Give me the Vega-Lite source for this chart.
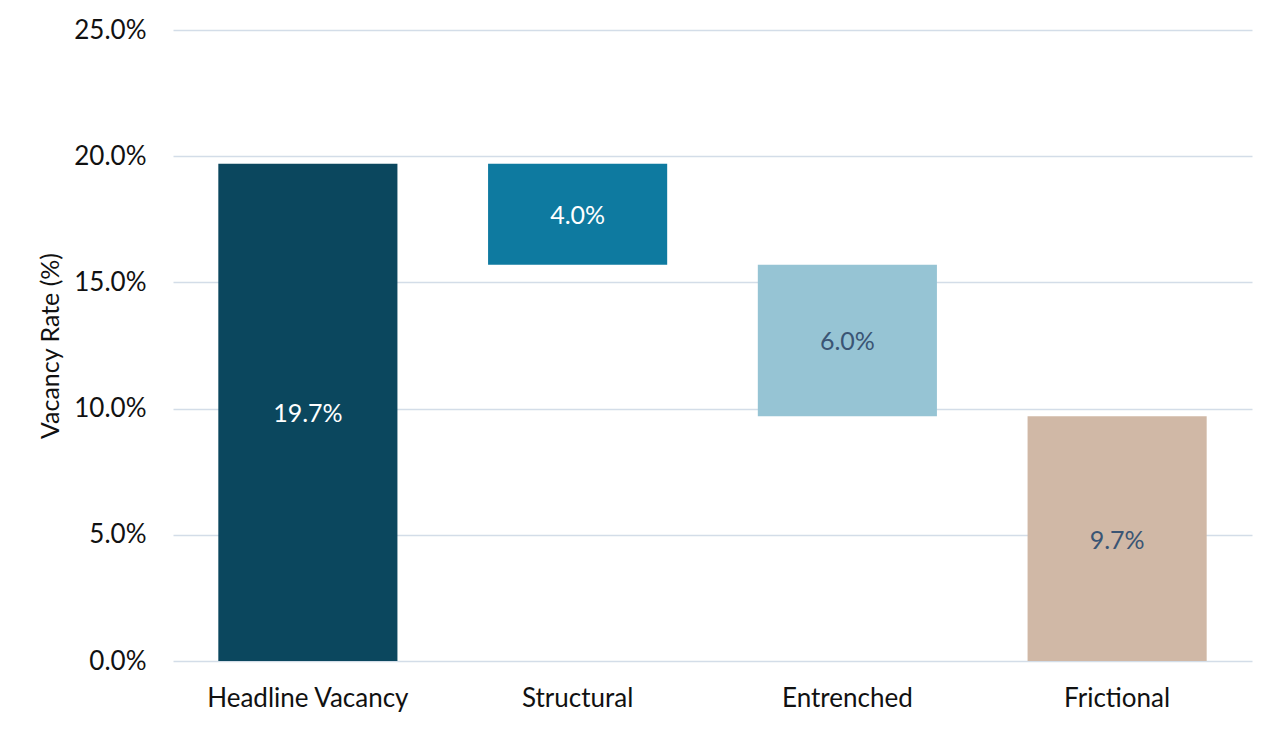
{
  "$schema": "https://vega.github.io/schema/vega-lite/v6.json",
  "width": 1079,
  "height": 631,
  "autosize": {"type": "none"},
  "padding": {"left": 173, "top": 30, "right": 28, "bottom": 72},
  "background": "white",
  "config": {
    "font": "Lato",
    "view": {"stroke": null}
  },
  "data": {
    "values": [
      {"category": "Headline Vacancy", "start": 0, "end": 19.7, "value": 19.7},
      {"category": "Structural", "start": 15.7, "end": 19.7, "value": 4.0},
      {"category": "Entrenched", "start": 9.7, "end": 15.7, "value": 6.0},
      {"category": "Frictional", "start": 0, "end": 9.7, "value": 9.7}
    ]
  },
  "encoding": {
    "x": {
      "field": "category",
      "type": "nominal",
      "sort": null,
      "scale": {"paddingInner": 0.336, "paddingOuter": 0.168},
      "axis": {
        "title": null,
        "labelAngle": 0,
        "labelFontSize": 26,
        "labelColor": "#111111",
        "labelPadding": 24,
        "labelLimit": 400,
        "ticks": false,
        "domain": false
      }
    }
  },
  "layer": [
    {
      "mark": {"type": "bar"},
      "encoding": {
        "y": {
          "field": "start",
          "type": "quantitative",
          "scale": {"domain": [0, 25], "nice": false},
          "axis": {
            "title": "Vacancy Rate (%)",
            "titleFontSize": 25,
            "titleFontWeight": "normal",
            "titleColor": "#111111",
            "titlePadding": 10,
            "values": [0, 5, 10, 15, 20, 25],
            "labelExpr": "format(datum.value, '.1f') + '%'",
            "labelFontSize": 26,
            "labelColor": "#111111",
            "labelPadding": 27,
            "ticks": false,
            "domain": false,
            "grid": true,
            "gridColor": "#d3dde8",
            "gridWidth": 1.5
          }
        },
        "y2": {"field": "end"},
        "color": {
          "field": "category",
          "type": "nominal",
          "legend": null,
          "scale": {
            "domain": ["Headline Vacancy", "Structural", "Entrenched", "Frictional"],
            "range": ["#0b475e", "#0e7aa0", "#96c4d4", "#d0b8a6"]
          }
        }
      }
    },
    {
      "transform": [
        {"calculate": "(datum.start + datum.end) / 2", "as": "mid"},
        {"calculate": "format(datum.value, '.1f') + '%'", "as": "label"}
      ],
      "mark": {"type": "text", "fontSize": 25, "align": "center", "baseline": "middle", "dy": 2},
      "encoding": {
        "y": {"field": "mid", "type": "quantitative"},
        "text": {"field": "label", "type": "nominal"},
        "color": {
          "field": "category",
          "type": "nominal",
          "legend": null,
          "scale": {
            "domain": ["Headline Vacancy", "Structural", "Entrenched", "Frictional"],
            "range": ["#ffffff", "#ffffff", "#3a5574", "#3a5574"]
          }
        }
      }
    }
  ],
  "resolve": {"scale": {"color": "independent"}}
}
